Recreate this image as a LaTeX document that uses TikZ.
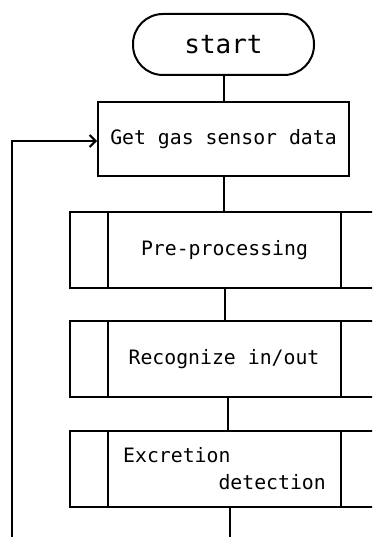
\documentclass[tikz,border=0pt]{standalone}
\usepackage{fontspec}
\setmonofont{DejaVu Sans Mono}
\usetikzlibrary{arrows.meta}
\tikzset{
  flow/.style={line width=2pt, draw=black},
  terminal/.style={flow, rectangle, rounded corners=30pt, minimum width=181pt,
    minimum height=61pt, inner sep=0pt, font=\ttfamily\fontsize{26}{30}\selectfont},
  procbox/.style={flow, rectangle, minimum height=74pt, inner sep=0pt,
    font=\ttfamily\fontsize{19.8}{27}\selectfont},
  subproc/.style={flow, rectangle, minimum width=309pt, minimum height=76pt,
    inner sep=0pt, font=\ttfamily\fontsize{19.8}{27}\selectfont},
  link/.style={flow},
  back/.style={flow, -{Straight Barb[length=6pt, width=12pt, line width=2pt]}}
}
\begin{document}
\begin{tikzpicture}[x=1pt, y=-1pt]
  \useasboundingbox (0,0) rectangle (372,537);
  \clip (0,0) rectangle (372,537);

  % main chain of steps
  \node[terminal] (start) at (223.5,44.5) {start};
  \node[procbox, minimum width=251pt] (get) at (223.5,139) {Get gas sensor data};
  \node[subproc] (pre) at (224.5,250) {Pre-processing};
  \node[subproc] (rec) at (224,359) {Recognize in/out};
  \node[subproc, align=left] (exc) at (224.5,469)
    {Excretion\\\phantom{XXXXXXXX}detection};

  % side bars of the predefined-process boxes
  \foreach \n in {pre,rec,exc} {
    \draw[flow] ([xshift=39pt]\n.north west) -- ([xshift=39pt]\n.south west);
    \draw[flow] ([xshift=-39pt]\n.north east) -- ([xshift=-39pt]\n.south east);
  }

  % free ends at the lower edge
  \coordinate (out) at (230,537);
  \coordinate (loop) at (12,537);

  % connectors, kept vertical
  \draw[link] (start.south) -- (start.south |- get.north);
  \draw[link] (get.south) -- (get.south |- pre.north);
  \draw[link] (pre.south) -- (pre.south |- rec.north);
  \draw[link] ([xshift=4pt]rec.south) -- ([xshift=4pt]rec.south |- exc.north);
  \draw[link] (exc.south -| out) -- (out);
  \draw[back] (loop) |- ([yshift=-2pt]get.west);
\end{tikzpicture}
\end{document}
